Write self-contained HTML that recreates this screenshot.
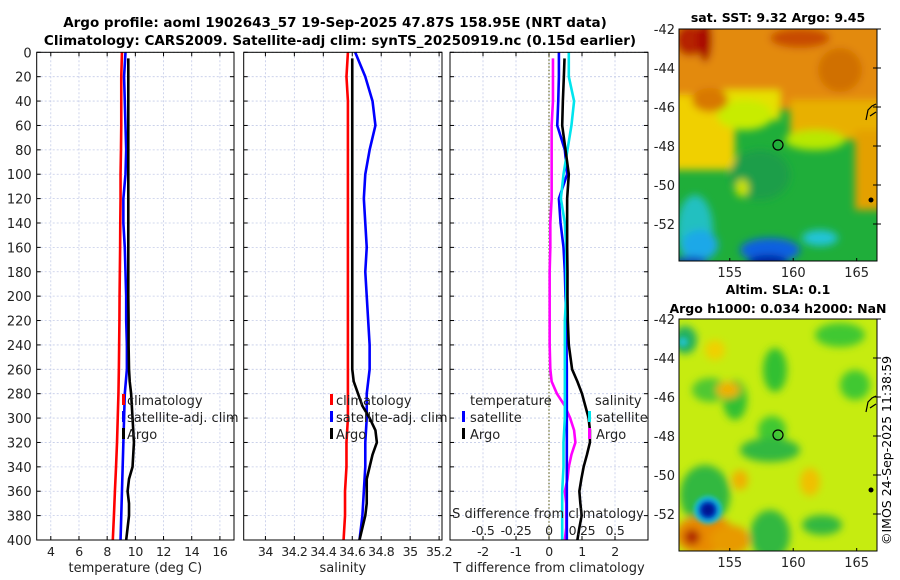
<!DOCTYPE html>
<html><head><meta charset="utf-8">
<style>
body{margin:0;background:#fff;}
svg{display:block;font-family:"DejaVu Sans","Liberation Sans",sans-serif;}
</style></head>
<body>
<svg id="fig" width="900" height="580" viewBox="0 0 900 580" xmlns="http://www.w3.org/2000/svg">
<defs>
<filter id="blur6" x="-20%" y="-20%" width="140%" height="140%"><feGaussianBlur stdDeviation="4"/></filter>
<filter id="blur3"><feGaussianBlur stdDeviation="2.5"/></filter>
<clipPath id="clipTop"><rect x="679" y="29" width="198" height="232"/></clipPath>
<clipPath id="clipBot"><rect x="679" y="319" width="198" height="232"/></clipPath>
</defs>
<text x="335" y="27" font-size="13.5" font-weight="bold" text-anchor="middle">Argo profile: aoml 1902643_57 19-Sep-2025 47.87S 158.95E (NRT data)</text>
<text x="340" y="45" font-size="13.5" font-weight="bold" text-anchor="middle">Climatology: CARS2009. Satellite-adj clim: synTS_20250919.nc (0.15d earlier)</text>
<g id="panels"></g>

<!-- top map -->
<g clip-path="url(#clipTop)">
<rect x="679" y="29" width="198" height="232" fill="#1fae3a"/>
<g filter="url(#blur6)">
<rect x="670" y="20" width="220" height="90" fill="#e38a0c"/>
<rect x="670" y="95" width="65" height="75" fill="#f0d000"/>
<rect x="720" y="90" width="60" height="30" fill="#e6e000"/>
<rect x="790" y="100" width="100" height="40" fill="#e8b000"/>
<rect x="855" y="130" width="35" height="80" fill="#e4a000"/>
<ellipse cx="745" cy="115" rx="28" ry="15" fill="#c8ec00"/>
<ellipse cx="815" cy="140" rx="30" ry="10" fill="#b8e800"/>
<ellipse cx="690" cy="40" rx="15" ry="16" fill="#b62000"/>
<ellipse cx="705" cy="40" rx="7" ry="22" fill="#a80000"/>
<ellipse cx="800" cy="38" rx="30" ry="10" fill="#c84c00"/>
<ellipse cx="840" cy="70" rx="22" ry="22" fill="#d07000"/>
<ellipse cx="710" cy="100" rx="18" ry="12" fill="#d87800"/>
<ellipse cx="695" cy="230" rx="18" ry="35" fill="#20c0c0"/>
<ellipse cx="700" cy="245" rx="18" ry="15" fill="#1ea8e8"/>
<ellipse cx="770" cy="250" rx="30" ry="12" fill="#1060e0"/>
<ellipse cx="820" cy="238" rx="18" ry="8" fill="#20c4d8"/>
<ellipse cx="690" cy="262" rx="18" ry="5" fill="#0830b0"/>
<ellipse cx="768" cy="262" rx="20" ry="7" fill="#0020a0"/>
<ellipse cx="760" cy="175" rx="30" ry="25" fill="#1f9e48"/>
<ellipse cx="742" cy="188" rx="7" ry="9" fill="#c8e000"/>
</g>
<circle cx="778" cy="145" r="5" fill="none" stroke="#000" stroke-width="1.2"/>
<path d="M866 120 L868 110 L872 106 L876 104 M870 116 L876 112" fill="none" stroke="#000" stroke-width="1.2"/>
<circle cx="871" cy="200" r="2.5" fill="#000"/>
</g>
<rect x="679" y="29" width="198" height="232" fill="none" stroke="#000" stroke-width="1"/>
<text x="778" y="22" font-size="12.5" font-weight="bold" text-anchor="middle">sat. SST: 9.32 Argo: 9.45</text>

<!-- bottom map -->
<g clip-path="url(#clipBot)">
<rect x="679" y="319" width="198" height="232" fill="#c6ec10"/>
<g filter="url(#blur6)">
<ellipse cx="685" cy="340" rx="12" ry="14" fill="#20b060"/>
<ellipse cx="775" cy="370" rx="12" ry="22" fill="#30c030"/>
<ellipse cx="735" cy="400" rx="12" ry="20" fill="#30c030"/>
<ellipse cx="772" cy="430" rx="14" ry="14" fill="#40c830"/>
<ellipse cx="840" cy="335" rx="25" ry="12" fill="#40c830"/>
<ellipse cx="855" cy="385" rx="15" ry="15" fill="#40c830"/>
<ellipse cx="770" cy="450" rx="30" ry="12" fill="#30b840"/>
<ellipse cx="705" cy="495" rx="25" ry="30" fill="#30b840"/>
<ellipse cx="770" cy="535" rx="20" ry="25" fill="#30b840"/>
<ellipse cx="822" cy="525" rx="20" ry="10" fill="#30b840"/>
<ellipse cx="710" cy="390" rx="18" ry="12" fill="#50c830"/>
<ellipse cx="728" cy="390" rx="12" ry="8" fill="#f0b000"/>
<ellipse cx="715" cy="350" rx="10" ry="10" fill="#f0d000"/>
<ellipse cx="740" cy="480" rx="8" ry="10" fill="#f0b000"/>
<ellipse cx="810" cy="482" rx="10" ry="14" fill="#f0c000"/>
<ellipse cx="705" cy="535" rx="30" ry="20" fill="#e88a00"/>
<ellipse cx="730" cy="540" rx="20" ry="15" fill="#e89a00"/>
<ellipse cx="692" cy="537" rx="8" ry="8" fill="#b02000"/>
</g>
<g filter="url(#blur3)">
<circle cx="708" cy="510" r="14" fill="#18c0e0"/>
<circle cx="708" cy="510" r="10" fill="#0030c0"/>
<circle cx="708" cy="510" r="6" fill="#001890"/>
<circle cx="683" cy="342" r="5" fill="#20c0c0"/>
</g>
<circle cx="778" cy="435" r="5" fill="none" stroke="#000" stroke-width="1.2"/>
<path d="M866 412 L868 402 L872 398 L876 396 M870 408 L876 404" fill="none" stroke="#000" stroke-width="1.2"/>
<circle cx="871" cy="490" r="2.5" fill="#000"/>
</g>
<rect x="679" y="319" width="198" height="232" fill="none" stroke="#000" stroke-width="1"/>
<text x="778" y="294" font-size="12.5" font-weight="bold" text-anchor="middle">Altim. SLA: 0.1</text>
<text x="778" y="313" font-size="12.5" font-weight="bold" text-anchor="middle">Argo h1000: 0.034 h2000: NaN</text>
<text font-size="12.5" transform="translate(891,545) rotate(-90)">©IMOS 24-Sep-2025 11:38:59</text>
<g id="mapaxes"></g>
</svg>
<script>
// ---- data ----
const depths = [0,20,40,60,80,100,120,140,160,180,200,220,240,260,280,300,320,340,360,380,400];
const argoDepths = [5,20,40,60,80,100,120,140,160,180,200,220,240,260,270,280,290,300,310,320,330,340,350,360,370,380,390,400];
const tempClim = [9.05,9.0,9.0,9.0,8.98,8.95,8.95,8.93,8.92,8.9,8.88,8.87,8.85,8.83,8.8,8.75,8.7,8.63,8.55,8.48,8.4];
const tempSat = [9.3,9.2,9.25,9.3,9.35,9.3,9.15,9.15,9.25,9.3,9.35,9.35,9.4,9.4,9.25,9.2,9.15,9.1,9.05,9.0,8.95];
const tempArgo = [9.5,9.5,9.5,9.5,9.5,9.5,9.5,9.5,9.5,9.5,9.5,9.52,9.52,9.55,9.6,9.7,9.75,9.8,9.85,9.9,9.85,9.8,9.55,9.45,9.55,9.55,9.45,9.35];
const salClim = [34.57,34.56,34.57,34.57,34.57,34.57,34.57,34.57,34.57,34.57,34.57,34.57,34.57,34.57,34.57,34.57,34.56,34.56,34.55,34.55,34.54];
const salSat = [34.62,34.69,34.74,34.76,34.72,34.69,34.68,34.69,34.7,34.69,34.7,34.71,34.72,34.72,34.7,34.7,34.69,34.69,34.68,34.67,34.65];
const salArgo = [34.6,34.6,34.6,34.6,34.6,34.6,34.6,34.6,34.6,34.6,34.6,34.6,34.6,34.6,34.61,34.64,34.67,34.72,34.76,34.77,34.74,34.72,34.7,34.7,34.7,34.69,34.67,34.65];
const tDiffSat = [0.3,0.3,0.28,0.25,0.48,0.55,0.3,0.35,0.44,0.48,0.5,0.52,0.53,0.54,0.54,0.54,0.54,0.54,0.54,0.54,0.54];
const tDiffArgo = [0.47,0.45,0.42,0.4,0.5,0.6,0.55,0.55,0.55,0.56,0.56,0.57,0.6,0.7,0.86,1.0,1.1,1.2,1.24,1.24,1.15,1.05,0.98,0.92,0.95,0.99,0.92,0.86];
const sDiffSat = [0.15,0.15,0.19,0.17,0.14,0.11,0.09,0.12,0.13,0.13,0.13,0.12,0.12,0.12,0.12,0.12,0.11,0.11,0.1,0.1,0.1];
const sDiffArgo = [0.03,0.03,0.03,0.02,0.02,0.02,0.02,0.01,0.01,0.005,0.005,0.005,0.005,0.01,0.02,0.06,0.12,0.16,0.19,0.2,0.17,0.15,0.14,0.12,0.13,0.13,0.13,0.12];
const depthTicks = [0,20,40,60,80,100,120,140,160,180,200,220,240,260,280,300,320,340,360,380,400];
const tempTicks = [4,6,8,10,12,14,16];
const salTicks = [34,34.2,34.4,34.6,34.8,35,35.2];
const salTickLabels = ["34","34.2","34.4","34.6","34.8","35","35.2"];
const tdTicks = [-2,-1,0,1,2];
const sdTicks = [-0.5,-0.25,0,0.25,0.5];
const sdTickLabels = ["-0.5","-0.25","0","0.25","0.5"];

const NS="http://www.w3.org/2000/svg";
const root=document.getElementById('panels');
function el(tag,attrs,parent,txt){const e=document.createElementNS(NS,tag);for(const k in attrs)e.setAttribute(k,attrs[k]);if(txt!==undefined)e.textContent=txt;(parent||root).appendChild(e);return e;}
const Y0=52.3,Y1=540;
const yS=d=>Y0+(d/400)*(Y1-Y0);
function xScale(x0,x1,v0,v1){return v=>x0+(v-v0)/(v1-v0)*(x1-x0);}

function panel(name,x0,x1,ticks,labels,xs,xlabel,showY){
  const g=el('g',{});
  
  
  ticks.forEach(t=>{const l=el('line',{x1:xs(t),x2:xs(t),y1:Y0,y2:Y1,stroke:'#c4cbe8','stroke-width':0.8,'stroke-dasharray':'2,2'},g);
    
    });
  depthTicks.forEach(d=>{const l=el('line',{x1:x0,x2:x1,y1:yS(d),y2:yS(d),stroke:'#c4cbe8','stroke-width':0.8,'stroke-dasharray':'2,2'},g);
    
    
    el('line',{x1:x0,x2:x0+4,y1:yS(d),y2:yS(d),stroke:'#000'},g);el('line',{x1:x1,x2:x1-4,y1:yS(d),y2:yS(d),stroke:'#000'},g);
    if(showY){const t=el('text',{x:x0-5,y:yS(d)+5,'font-size':13,'text-anchor':'end',fill:'#222'},g,String(d));
      
      }});
  ticks.forEach((t,i)=>{el('line',{x1:xs(t),x2:xs(t),y1:Y1,y2:Y1-4,stroke:'#000'},g);el('line',{x1:xs(t),x2:xs(t),y1:Y0,y2:Y0+4,stroke:'#000'},g);
    const tx=el('text',{x:xs(t),y:556,'font-size':12.5,'letter-spacing':'-0.4','text-anchor':'middle',fill:'#222'},g,labels[i]);
    
    });
  const xl=el('text',{x:(x0+x1)/2,y:572,'font-size':13,'text-anchor':'middle',fill:'#222'},g,xlabel);
  
  
  return g;
}
function frame(x0,x1){const r=el('rect',{x:x0,y:Y0,width:x1-x0,height:Y1-Y0,fill:'none',stroke:'#000','stroke-width':1});
  
  }
function line(g,name,vals,ds,xs,color){
  const p=el('polyline',{points:vals.map((v,i)=>xs(v)+','+yS(ds[i])).join(' '),fill:'none',stroke:color,'stroke-width':2.6,'stroke-linejoin':'round'},g);
  
  
}
function legend(g,x,y,color,label,markerX){
  el('rect',{x:markerX,y:y-11,width:3,height:11,fill:color},g);
  const t=el('text',{x:x,y:y,'font-size':13,fill:'#222'},g,label);
  
  
}
// panel 1
const xT=xScale(36.7,234,3,17);
const g1=panel('temperature-panel',36.7,234,tempTicks,tempTicks.map(String),xT,'temperature (deg C)',true);
line(g1,'temp-climatology-line',tempClim,depths,xT,'#ff0000');
line(g1,'temp-satellite-line',tempSat,depths,xT,'#0000ff');
line(g1,'temp-argo-line',tempArgo,argoDepths,xT,'#000');
legend(g1,127,405,'#ff0000','climatology',122);
legend(g1,127,422,'#0000ff','satellite-adj. clim',122);
legend(g1,127,439,'#000','Argo',122);
frame(36.7,234);
// panel 2
const xS=xScale(243.7,442,33.85,35.22);
const g2=panel('salinity-panel',243.7,442,salTicks,salTickLabels,xS,'salinity',false);
line(g2,'sal-climatology-line',salClim,depths,xS,'#ff0000');
line(g2,'sal-satellite-line',salSat,depths,xS,'#0000ff');
line(g2,'sal-argo-line',salArgo,argoDepths,xS,'#000');
legend(g2,336,405,'#ff0000','climatology',330);
legend(g2,336,422,'#0000ff','satellite-adj. clim',330);
legend(g2,336,439,'#000','Argo',330);
frame(243.7,442);
// panel 3
const xD=xScale(450,648,-3,3);
const xSD=v=>xD(v*4);
const g3=panel('difference-panel',450,648,tdTicks,tdTicks.map(String),xD,'T difference from climatology',false);
el('line',{x1:xD(0),x2:xD(0),y1:Y0,y2:Y1,stroke:'#6b6b2a','stroke-width':1.2,'stroke-dasharray':'1.5,2'},g3);
line(g3,'sdiff-argo-line',sDiffArgo,argoDepths,xSD,'#ff00ff');
line(g3,'tdiff-satellite-line',tDiffSat,depths,xD,'#0000ff');
line(g3,'sdiff-satellite-line',sDiffSat,depths,xSD,'#00e5ee');
line(g3,'tdiff-argo-line',tDiffArgo,argoDepths,xD,'#000');
const lt=el('text',{x:470,y:405,'font-size':13,fill:'#222'},g3,'temperature');


legend(g3,470,422,'#0000ff','satellite',462);
legend(g3,470,439,'#000','Argo',462);
const ls=el('text',{x:595,y:405,'font-size':13,fill:'#222'},g3,'salinity');


legend(g3,596,422,'#00e5ee','satellite',588);
legend(g3,596,439,'#ff00ff','Argo',588);
const st=el('text',{x:548,y:518,'font-size':13,'text-anchor':'middle',fill:'#222'},g3,'S difference from climatology');


sdTicks.forEach((t,i)=>{const tx=el('text',{x:xSD(t),y:535,'font-size':12.5,'letter-spacing':'-0.3','text-anchor':'middle',fill:'#222'},g3,sdTickLabels[i]);
  
  });
frame(450,648);

// map axes
const mg=document.getElementById('mapaxes');
const lonTicks=[155,160,165];
const latTicks=[-42,-44,-46,-48,-50,-52];
const lonX=v=>679+(v-151)/(166.6-151)*198;
[[29,261],[319,551]].forEach(([top,bot],k)=>{
  const latY=v=>top+(-42-v)*19.5;
  lonTicks.forEach(l=>{el('line',{x1:lonX(l),x2:lonX(l),y1:bot,y2:bot-3,stroke:'#000'},mg);
    const t=el('text',{x:lonX(l),y:bot+16,'font-size':13,'text-anchor':'middle',fill:'#222'},mg,String(l));
    
    });
  latTicks.forEach(l=>{const y=latY(l);el('line',{x1:877,x2:873,y1:y,y2:y,stroke:'#000'},mg);el('line',{x1:877,x2:881,y1:y,y2:y,stroke:'#000'},mg);
    const t=el('text',{x:675,y:y+5,'font-size':13,'text-anchor':'end',fill:'#222'},mg,String(l));
    
    });
});
</script>
</body></html>
